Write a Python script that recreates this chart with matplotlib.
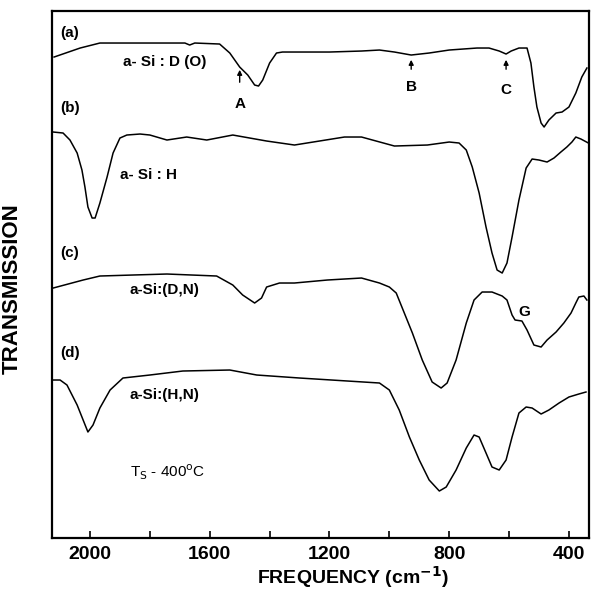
import matplotlib
matplotlib.use("Agg")
import matplotlib.pyplot as plt

plt.rcParams['font.family'] = ['Liberation Sans', 'DejaVu Sans']

# IR transmission spectra, wavenumber (cm-1) vs transmission (arb. units, offset)
wn_a = [2120, 2033, 1967, 1800, 1683, 1667, 1650, 1567, 1533, 1500, 1473, 1450, 1437, 1423,
        1400, 1377, 1357, 1300, 1200, 1093, 1033, 983, 927, 867, 800, 707, 667, 633, 610,
        593, 567, 540, 527, 517, 507, 493, 483, 467, 443, 423, 400, 377, 357, 340]
tr_a = [481, 490, 495, 495, 495, 493, 495, 494, 485, 471, 463, 453, 452, 458,
        475, 485, 486, 486, 486, 487, 488, 486, 483, 485, 488, 490, 490, 487, 484,
        487, 490, 490, 475, 451, 431, 415, 411, 418, 425, 426, 431, 445, 461, 470]

wn_b = [2123, 2090, 2067, 2043, 2027, 2017, 2007, 1993, 1983, 1967, 1943, 1923, 1900, 1877,
        1833, 1800, 1743, 1677, 1610, 1523, 1410, 1317, 1150, 1093, 983, 873, 800, 767, 743,
        723, 700, 677, 657, 640, 623, 607, 590, 567, 543, 523, 500, 473, 450, 427, 407, 390,
        377, 360, 335]
tr_b = [406, 405, 398, 385, 368, 351, 331, 320, 320, 335, 361, 385, 400, 403,
        404, 403, 398, 401, 398, 403, 397, 393, 401, 401, 392, 393, 396, 395, 388,
        371, 345, 311, 285, 268, 265, 275, 301, 338, 370, 379, 378, 376, 380, 386, 391, 396,
        401, 399, 395]

wn_c = [2123, 2023, 1967, 1857, 1743, 1577, 1523, 1490, 1450, 1427, 1410, 1367, 1317, 1207,
        1093, 1033, 1000, 977, 950, 923, 890, 857, 827, 807, 777, 743, 717, 690, 657, 623,
        607, 590, 580, 557, 540, 517, 493, 473, 443, 417, 393, 377, 367, 350, 340]
tr_c = [250, 258, 262, 263, 264, 262, 253, 243, 235, 240, 251, 255, 255, 258,
        260, 255, 251, 245, 225, 205, 178, 156, 150, 155, 178, 215, 238, 246, 246, 242,
        238, 223, 218, 217, 208, 193, 191, 198, 206, 215, 225, 235, 241, 242, 238]

wn_d = [2127, 2100, 2077, 2043, 2023, 2007, 1990, 1967, 1933, 1890, 1800, 1690, 1533, 1443,
        1300, 1033, 1000, 967, 933, 900, 867, 833, 810, 777, 743, 717, 700, 677, 657, 633,
        610, 590, 567, 543, 523, 493, 467, 433, 400, 367, 343]
tr_d = [158, 158, 153, 133, 118, 106, 113, 130, 148, 160, 163, 167, 168, 163,
        160, 155, 148, 128, 101, 78, 58, 47, 51, 68, 90, 103, 101, 85, 71, 68,
        78, 101, 125, 131, 130, 124, 128, 135, 141, 144, 146]

panel_tags = ['(a)', '(b)', '(c)', '(d)']
sample_names = ['a- Si : D (O)', 'a- Si : H', 'a-Si:(D,N)', 'a-Si:(H,N)']
marks = ['A', 'B', 'C']
mark_wn = [1500, 927, 610]

fig = plt.figure(figsize=(5.95, 5.96), dpi=100)
ax = fig.add_axes([0.0874, 0.0973, 0.9025, 0.8842])

for wn, tr in [(wn_a, tr_a), (wn_b, tr_b), (wn_c, tr_c), (wn_d, tr_d)]:
    ax.plot(wn, tr, color='black', lw=1.1)

ax.set_xlim(2127, 333)
ax.set_ylim(0, 527)
ax.set_xticks([2000, 1600, 1200, 800, 400])
ax.set_xticks([1800, 1400, 1000, 600], minor=True)
ax.set_yticks([])
ax.tick_params(axis='x', direction='in', length=5, width=1.2, labelsize=14, pad=6)
ax.tick_params(axis='x', which='minor', direction='in', length=5, width=1.2)
for lab in ax.get_xticklabels():
    lab.set_fontweight('bold')
for s in ax.spines.values():
    s.set_linewidth(1.6)

# panel tags and sample names
for tag, y in zip(panel_tags, [505, 430, 285, 185]):
    ax.text(2100, y, tag, fontsize=11, fontweight='bold', va='center')
for name, x, y in zip(sample_names, [1890, 1900, 1867, 1867], [476, 363, 248, 143]):
    ax.text(x, y, name, fontsize=11, fontweight='bold', va='center')
ax.text(1867, 66, r'T$_\mathrm{S}$ - 400$^\mathrm{o}$C', fontsize=11, va='center')

# arrows A, B, C on curve (a)
for m, x, ytail, yhead, ylab in zip(marks, mark_wn, [453, 466, 466], [471, 481, 481], [441, 458, 455]):
    ax.annotate('', xy=(x, yhead), xytext=(x, ytail),
                arrowprops=dict(arrowstyle='-|>', color='black', lw=1.0, mutation_scale=7))
    ax.text(x, ylab, m, fontsize=11, fontweight='bold', ha='center', va='top')
ax.text(550, 226, 'G', fontsize=11, fontweight='bold', ha='center', va='center')

ax.set_xlabel(r'FREQUENCY (cm$^{\mathbf{-1}}$)', fontsize=14, fontweight='bold')
ax.xaxis.set_label_coords(0.56, -0.05)
ax.set_ylabel('TRANSMISSION', fontsize=16, fontweight='bold')
ax.yaxis.set_label_coords(-0.054, 0.474)

fig.savefig('out.png', dpi=100)
